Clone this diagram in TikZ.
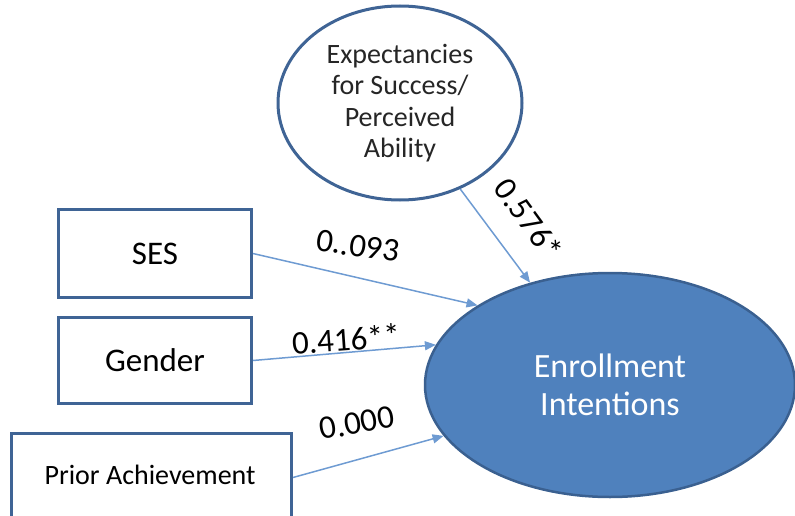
\documentclass[tikz,border=0pt]{standalone}
\usepackage{fontspec}
\setmainfont{Carlito}
\usetikzlibrary{shapes.geometric,arrows.meta}
\definecolor{boxblue}{HTML}{3F6495}
\definecolor{fillblue}{HTML}{4F81BD}
\definecolor{edgeblue}{HTML}{3A6090}
\definecolor{arrowblue}{HTML}{6E9BD2}
\tikzset{
  varbox/.style={draw=boxblue, line width=3pt, fill=white, inner sep=0pt, anchor=north west},
  outcome/.style={ellipse, draw=edgeblue, line width=2.5pt, fill=fillblue, inner sep=0pt, minimum width=370pt, minimum height=224pt, text=white, align=center, font=\fontsize{34}{38}\selectfont},
  latent/.style={ellipse, draw=boxblue, line width=3pt, fill=white, inner sep=0pt, minimum width=244pt, minimum height=194pt, align=center, font=\fontsize{28}{31.5}\selectfont, text=black!85},
  path/.style={draw=arrowblue, line width=1.5pt, -{Triangle[length=11pt,width=9pt]}},
  coef/.style={font=\fontsize{33}{36}\selectfont, text=black}
}
\begin{document}
\begin{tikzpicture}[x=1pt,y=-1pt]
\useasboundingbox (0,0) rectangle (795,516);
\node[outcome] (enr) at (610,385) {Enrollment\\Intentions};
\node[latent] (exp) at (400,103) {Expectancies\\for Success/\\Perceived\\Ability};
\node[varbox, minimum width=193pt, minimum height=88pt] (ses) at (57,208) {};
\node[font=\fontsize{33}{36}\selectfont] (sest) at (ses.center) {SES};
\node[varbox, minimum width=193pt, minimum height=86pt] (gen) at (57,316) {};
\node[font=\fontsize{33}{36}\selectfont] (gent) at (gen.center) {Gender};
\node[varbox, minimum width=280pt, minimum height=88pt] (pri) at (10,432) {};
\node[font=\fontsize{28}{31}\selectfont] (prit) at (150,475) {Prior Achievement};
\draw[path] (ses.east) -- (enr.149.4);
\draw[path] (gen.east) -- (enr.167.9);
\draw[path] (pri.east) -- (enr.197);
\draw[path] (exp.305) -- (enr.128.9);
\node[coef, rotate=-8] (l1) at (358,246) {0..093};
\node[coef, rotate=4] (l2) at (346,339) {0.416**};
\node[coef, rotate=10] (l3) at (357,423) {0.000};
\node[coef, rotate=-54] (l4) at (529,219) {0.576*};
\end{tikzpicture}
\end{document}
